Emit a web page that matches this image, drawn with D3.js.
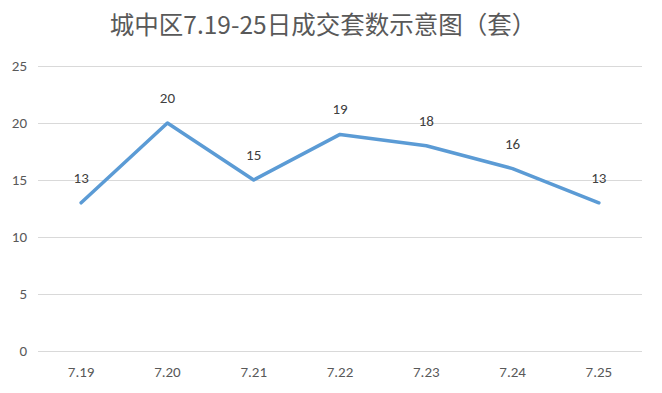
<!DOCTYPE html>
<html>
<head>
<meta charset="utf-8">
<script src="https://cdn.jsdelivr.net/npm/d3@7"></script>
<style>
  body { margin: 0; background: #fff; }
  svg { display: block; }
</style>
</head>
<body>
<svg id="chart" width="662" height="393"></svg>
<script>
var categories = ["7.19", "7.20", "7.21", "7.22", "7.23", "7.24", "7.25"];
var values = [13, 20, 15, 19, 18, 16, 13];
var yTicks = [0, 5, 10, 15, 20, 25];
var title = "城中区7.19-25日成交套数示意图（套）";

var svg = d3.select("#chart"),
    width = +svg.attr("width"),
    height = +svg.attr("height"),
    margin = {top: 66, right: 20, bottom: 42, left: 38};

var font = "Calibri, Carlito, 'Open Sans', 'Liberation Sans', sans-serif";

var x = d3.scaleBand().domain(categories).range([margin.left, width - margin.right]);
var y = d3.scaleLinear().domain([0, 25]).range([height - margin.bottom, margin.top]);

svg.append("text")
    .attr("x", 323)
    .attr("y", 34)
    .attr("text-anchor", "middle")
    .attr("fill", "#595959")
    .style("font-family", "'Noto Sans CJK SC', sans-serif")
    .style("font-size", "24.5px")
    .text(title);

var yAxis = svg.append("g")
    .attr("transform", "translate(" + margin.left + ",0)")
    .call(d3.axisLeft(y).tickValues(yTicks).tickSize(-(width - margin.left - margin.right)).tickPadding(11));
yAxis.select(".domain").remove();
yAxis.selectAll("line").attr("stroke", "#d9d9d9");
yAxis.selectAll("text").attr("fill", "#595959").style("font-family", font).style("font-size", "15px");

var xAxis = svg.append("g")
    .attr("transform", "translate(0," + (height - margin.bottom) + ")")
    .call(d3.axisBottom(x).tickSize(0).tickPadding(15));
xAxis.select(".domain").remove();
xAxis.selectAll("text").attr("fill", "#595959").style("font-family", font).style("font-size", "15px");

var line = d3.line()
    .x(function(d, i) { return x(categories[i]) + x.bandwidth() / 2; })
    .y(function(d) { return y(d); });

svg.append("path")
    .datum(values)
    .attr("d", line)
    .attr("fill", "none")
    .attr("stroke", "#5b9bd5")
    .attr("stroke-width", 3.5)
    .attr("stroke-linejoin", "round")
    .attr("stroke-linecap", "round");

svg.selectAll(".lbl")
    .data(values)
    .enter().append("text")
    .attr("class", "lbl")
    .attr("x", function(d, i) { return x(categories[i]) + x.bandwidth() / 2; })
    .attr("y", function(d) { return y(d) - 20; })
    .attr("text-anchor", "middle")
    .attr("fill", "#404040")
    .style("font-family", font)
    .style("font-size", "15px")
    .text(function(d) { return d; });
</script>
</body>
</html>
